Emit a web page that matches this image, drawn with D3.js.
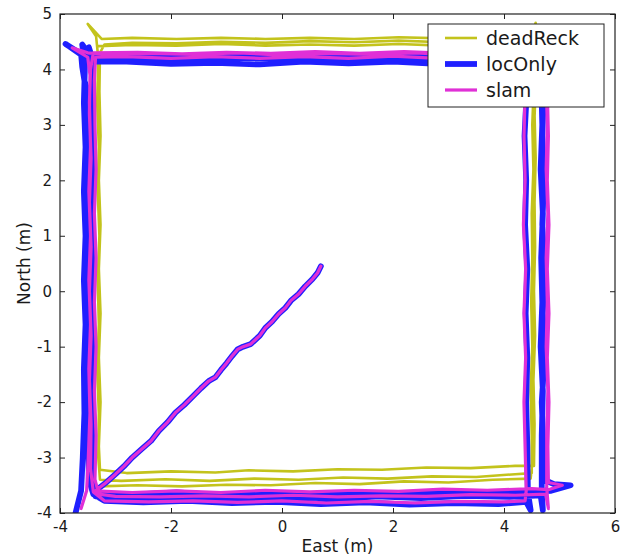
<!DOCTYPE html>
<html>
<head>
<meta charset="utf-8">
<script src="https://cdn.jsdelivr.net/npm/d3@7"></script>
<style>
  html, body { margin: 0; padding: 0; background: #fff; }
  svg text { font-family: "DejaVu Sans", sans-serif; fill: #1a1a1a; }
</style>
</head>
<body>
<svg id="chart" width="626" height="559"></svg>
<script>
// Shared first leg: from the start point diagonally to the south-west corner
const startLeg = [[0.70,0.45],[0.64,0.33],[0.55,0.22],[0.42,0.09],[0.30,-0.05],[0.16,-0.17],[0.06,-0.30],[-0.06,-0.41],[-0.18,-0.55],[-0.30,-0.66],[-0.40,-0.80],[-0.56,-0.95],[-0.70,-1.00],[-0.80,-1.05],[-0.90,-1.17],[-1.00,-1.30],[-1.10,-1.42],[-1.20,-1.55],[-1.32,-1.62],[-1.46,-1.75],[-1.60,-1.89],[-1.76,-2.05],[-1.92,-2.19],[-2.06,-2.36],[-2.22,-2.52],[-2.36,-2.70],[-2.52,-2.84],[-2.70,-3.00],[-2.85,-3.16],[-3.00,-3.30],[-3.18,-3.46],[-3.36,-3.60]];

// Dead-reckoning estimate (East, North) in metres
const deadReckLaps = [
  [-3.30,-3.52],[-2.60,-3.50],[-1.80,-3.52],[-1.00,-3.49],[-0.20,-3.50],[0.60,-3.46],[1.40,-3.48],[2.20,-3.43],[3.00,-3.45],[3.80,-3.40],[4.48,-3.38],
  [4.52,-3.00],[4.50,-2.20],[4.53,-1.40],[4.51,-0.60],[4.53,0.20],[4.52,1.00],[4.55,1.80],[4.53,2.60],[4.56,3.40],[4.55,4.20],[4.57,4.84],[4.50,4.58],
  [3.70,4.59],[2.90,4.56],[2.10,4.58],[1.30,4.55],[0.50,4.57],[-0.30,4.55],[-1.10,4.57],[-1.90,4.55],[-2.70,4.57],[-3.25,4.55],[-3.50,4.82],[-3.35,4.60],
  [-3.31,4.20],[-3.33,3.40],[-3.30,2.60],[-3.32,1.80],[-3.29,1.00],[-3.32,0.20],[-3.30,-0.60],[-3.33,-1.40],[-3.30,-2.20],[-3.31,-3.00],[-3.28,-3.40],
  [-2.90,-3.42],[-2.10,-3.39],[-1.30,-3.42],[-0.50,-3.38],[0.30,-3.40],[1.10,-3.36],[1.90,-3.38],[2.70,-3.34],[3.50,-3.35],[4.20,-3.30],[4.50,-3.28],
  [4.50,-2.60],[4.48,-1.80],[4.51,-1.00],[4.49,-0.20],[4.51,0.60],[4.50,1.40],[4.53,2.20],[4.51,3.00],[4.54,3.80],[4.52,4.40],[4.45,4.50],
  [3.70,4.52],[2.90,4.49],[2.10,4.52],[1.30,4.49],[0.50,4.51],[-0.30,4.48],[-1.10,4.50],[-1.90,4.47],[-2.70,4.48],[-3.20,4.45],[-3.28,4.30],
  [-3.29,3.60],[-3.27,2.80],[-3.30,2.00],[-3.27,1.20],[-3.30,0.40],[-3.27,-0.40],[-3.30,-1.20],[-3.27,-2.00],[-3.30,-2.80],[-3.28,-3.22],
  [-2.80,-3.28],[-2.00,-3.25],[-1.20,-3.27],[-0.60,-3.23],[0.20,-3.25],[1.00,-3.21],[1.80,-3.22],[2.60,-3.18],[3.40,-3.19],[4.20,-3.15],[4.54,-3.15],
  [4.55,-2.40],[4.53,-1.60],[4.56,-0.80],[4.54,0.00],[4.56,0.80],[4.55,1.60],[4.57,2.40],[4.55,3.20],[4.58,4.00],[4.54,4.44],
  [3.70,4.46],[2.90,4.43],[2.10,4.46],[1.30,4.43],[0.50,4.45],[-0.30,4.43],[-1.10,4.46],[-1.90,4.43],[-2.70,4.44],[-3.30,4.42]
];

// Localisation-only estimate
const locOnlyLaps = [
  [-3.40,-3.64],[-2.70,-3.67],[-1.90,-3.63],[-1.10,-3.68],[-0.30,-3.64],[0.50,-3.68],[1.30,-3.63],[2.10,-3.66],[2.90,-3.62],[3.70,-3.65],[4.45,-3.62],[4.85,-3.60],[5.20,-3.50],[4.90,-3.48],[4.72,-3.40],
  [4.71,-2.80],[4.68,-2.00],[4.73,-1.20],[4.70,-0.40],[4.73,0.40],[4.69,1.20],[4.72,2.00],[4.69,2.80],[4.72,3.60],[4.70,4.20],
  [4.20,4.22],[3.40,4.18],[2.60,4.21],[1.80,4.17],[1.00,4.21],[0.20,4.18],[-0.60,4.21],[-1.40,4.17],[-2.20,4.20],[-3.00,4.18],[-3.55,4.22],[-3.90,4.46],[-3.62,4.28],[-3.60,4.05],[-3.56,3.80],[-3.50,3.60],
  [-3.52,2.80],[-3.49,2.00],[-3.53,1.20],[-3.50,0.40],[-3.53,-0.40],[-3.50,-1.20],[-3.53,-2.00],[-3.49,-2.80],[-3.48,-3.40],[-3.40,-3.66],[-3.20,-3.78],
  [-2.50,-3.81],[-1.70,-3.78],[-0.90,-3.82],[-0.10,-3.80],[0.70,-3.84],[1.50,-3.81],[2.30,-3.85],[3.10,-3.82],[3.90,-3.84],[4.40,-3.80],[4.48,-3.95],[4.43,-3.62],
  [4.42,-2.80],[4.40,-2.00],[4.42,-1.20],[4.39,-0.40],[4.42,0.40],[4.38,1.20],[4.40,2.00],[4.37,2.80],[4.41,3.60],[4.40,4.13],
  [3.60,4.13],[2.80,4.10],[2.00,4.14],[1.20,4.11],[0.40,4.14],[-0.40,4.09],[-1.20,4.12],[-2.00,4.10],[-2.80,4.14],[-3.40,4.14],[-3.48,4.40],[-3.42,3.90],
  [-3.43,3.20],[-3.40,2.40],[-3.43,1.60],[-3.40,0.80],[-3.43,0.00],[-3.41,-0.80],[-3.44,-1.60],[-3.40,-2.40],[-3.43,-3.20],[-3.36,-3.70],[-3.10,-3.72],
  [-2.30,-3.74],[-1.50,-3.71],[-0.70,-3.75],[0.10,-3.71],[0.90,-3.74],[1.70,-3.70],[2.50,-3.73],[3.30,-3.69],[4.10,-3.71],[4.66,-3.68],[4.70,-3.95],[4.68,-3.55],
  [4.68,-2.60],[4.70,-1.80],[4.66,-1.00],[4.69,-0.20],[4.67,0.60],[4.70,1.40],[4.66,2.20],[4.69,3.00],[4.67,3.80],[4.66,4.24],
  [3.80,4.26],[3.00,4.23],[2.20,4.25],[1.40,4.22],[0.60,4.25],[-0.20,4.22],[-1.00,4.25],[-1.80,4.21],[-2.60,4.24],[-3.45,4.24],[-3.60,4.45],[-3.55,4.10],
  [-3.57,3.40],[-3.54,2.60],[-3.57,1.80],[-3.54,1.00],[-3.57,0.20],[-3.54,-0.60],[-3.57,-1.40],[-3.56,-2.20],[-3.59,-3.00],[-3.62,-3.60],[-3.72,-4.00]
];

// SLAM estimate
const slamLaps = [
  [-2.70,-3.63],[-1.90,-3.60],[-1.10,-3.63],[-0.30,-3.59],[0.50,-3.62],[1.30,-3.59],[2.10,-3.61],[2.90,-3.57],[3.70,-3.59],[4.50,-3.56],[4.80,-3.58],[5.05,-3.50],[4.80,-3.45],
  [4.79,-2.80],[4.81,-2.00],[4.78,-1.20],[4.81,-0.40],[4.78,0.40],[4.81,1.20],[4.78,2.00],[4.80,2.80],[4.78,3.60],[4.78,4.27],
  [4.00,4.29],[3.20,4.26],[2.40,4.30],[1.60,4.27],[0.80,4.29],[0.00,4.26],[-0.80,4.30],[-1.60,4.27],[-2.40,4.29],[-3.20,4.27],[-3.50,4.30],[-3.78,4.39],[-3.50,4.22],[-3.46,3.90],
  [-3.47,3.20],[-3.44,2.40],[-3.47,1.60],[-3.44,0.80],[-3.47,0.00],[-3.44,-0.80],[-3.47,-1.60],[-3.44,-2.40],[-3.45,-3.20],[-3.40,-3.62],[-3.20,-3.78],
  [-2.40,-3.80],[-1.60,-3.78],[-0.80,-3.81],[0.00,-3.78],[0.80,-3.82],[1.60,-3.79],[2.40,-3.82],[3.20,-3.79],[4.00,-3.80],[4.38,-3.78],[4.40,-3.60],
  [4.38,-2.80],[4.36,-2.00],[4.39,-1.20],[4.36,-0.40],[4.39,0.40],[4.35,1.20],[4.38,2.00],[4.36,2.80],[4.38,3.60],[4.38,4.22],
  [3.60,4.22],[2.80,4.20],[2.00,4.24],[1.20,4.20],[0.40,4.23],[-0.40,4.20],[-1.20,4.23],[-2.00,4.20],[-2.80,4.23],[-3.36,4.22],[-3.38,3.80],
  [-3.37,3.00],[-3.35,2.20],[-3.38,1.40],[-3.35,0.60],[-3.38,-0.20],[-3.35,-1.00],[-3.38,-1.80],[-3.35,-2.60],[-3.37,-3.40],[-3.30,-3.66],[-3.00,-3.70],
  [-2.20,-3.71],[-1.40,-3.69],[-0.60,-3.71],[0.20,-3.68],[1.00,-3.71],[1.80,-3.69],[2.60,-3.70],[3.40,-3.67],[4.20,-3.68],[4.75,-3.66],[4.80,-3.92],[4.77,-3.55],
  [4.77,-2.60],[4.79,-1.80],[4.76,-1.00],[4.78,-0.20],[4.76,0.60],[4.79,1.40],[4.76,2.20],[4.78,3.00],[4.76,3.80],[4.76,4.30],
  [3.80,4.32],[3.00,4.29],[2.20,4.32],[1.40,4.29],[0.60,4.32],[-0.20,4.29],[-1.00,4.31],[-1.80,4.28],[-2.60,4.31],[-3.40,4.30],[-3.45,4.00],
  [-3.47,3.40],[-3.45,2.60],[-3.48,1.80],[-3.45,1.00],[-3.48,0.20],[-3.45,-0.60],[-3.48,-1.40],[-3.46,-2.20],[-3.49,-3.00],[-3.52,-3.60],[-3.62,-3.92]
];

const seriesNames = ["deadReck", "locOnly", "slam"];
const seriesColors = ["#c3c31c", "#1f1fff", "#e030d6"];
const seriesWidths = [2.6, 5.8, 3.2];
const seriesPoints = [
  startLeg.concat(deadReckLaps),
  startLeg.concat(locOnlyLaps),
  startLeg.concat(slamLaps)
];

const xTicks = [-4, -2, 0, 2, 4, 6];
const yTicks = [-4, -3, -2, -1, 0, 1, 2, 3, 4, 5];

const svg = d3.select("#chart");
const plotLeft = 60, plotRight = 615, plotTop = 14, plotBottom = 513;

const x = d3.scaleLinear().domain([-4, 6]).range([plotLeft, plotRight]);
const y = d3.scaleLinear().domain([-4, 5]).range([plotBottom, plotTop]);

svg.append("defs").append("clipPath").attr("id", "plotClip")
  .append("rect").attr("x", plotLeft).attr("y", plotTop)
  .attr("width", plotRight - plotLeft).attr("height", plotBottom - plotTop);

const line = d3.line().x(d => x(d[0])).y(d => y(d[1]));

const plot = svg.append("g").attr("clip-path", "url(#plotClip)");
seriesPoints.forEach((pts, i) => {
  plot.append("path")
    .datum(pts)
    .attr("d", line)
    .attr("fill", "none")
    .attr("stroke", seriesColors[i])
    .attr("stroke-width", seriesWidths[i])
    .attr("stroke-linejoin", "round")
    .attr("stroke-linecap", "round");
});

// Axes with inward ticks on all four sides
const tickLen = 5;
const axB = d3.axisBottom(x).tickValues(xTicks).tickSize(-tickLen).tickPadding(8).tickFormat(d3.format("d"));
const axT = d3.axisTop(x).tickValues(xTicks).tickSize(-tickLen).tickFormat("");
const axL = d3.axisLeft(y).tickValues(yTicks).tickSize(-tickLen).tickPadding(8).tickFormat(d3.format("d"));
const axR = d3.axisRight(y).tickValues(yTicks).tickSize(-tickLen).tickFormat("");

function styleAxis(g) {
  g.select(".domain").remove();
  g.selectAll(".tick line").attr("stroke", "#222").attr("stroke-width", 1);
  g.selectAll(".tick text").attr("font-size", 15).attr("fill", "#1a1a1a")
    .text(d => String(d));
}
svg.append("g").attr("transform", `translate(0,${plotBottom})`).call(axB).call(styleAxis);
svg.append("g").attr("transform", `translate(0,${plotTop})`).call(axT).call(styleAxis)
  .selectAll(".tick text").remove();
svg.append("g").attr("transform", `translate(${plotLeft},0)`).call(axL).call(styleAxis);
svg.append("g").attr("transform", `translate(${plotRight},0)`).call(axR).call(styleAxis)
  .selectAll(".tick text").remove();

svg.append("rect")
  .attr("x", plotLeft).attr("y", plotTop)
  .attr("width", plotRight - plotLeft).attr("height", plotBottom - plotTop)
  .attr("fill", "none").attr("stroke", "#222").attr("stroke-width", 1.2);

svg.append("text")
  .attr("x", (plotLeft + plotRight) / 2).attr("y", 552)
  .attr("text-anchor", "middle").attr("font-size", 17)
  .text("East (m)");
svg.append("text")
  .attr("transform", `translate(24,${(plotTop + plotBottom) / 2}) rotate(-90)`)
  .attr("text-anchor", "middle").attr("dominant-baseline", "central").attr("font-size", 17)
  .text("North (m)");

// Legend
const lg = svg.append("g").attr("transform", "translate(428,24)");
lg.append("rect").attr("width", 176).attr("height", 83)
  .attr("fill", "#fff").attr("stroke", "#222").attr("stroke-width", 1);
seriesNames.forEach((name, i) => {
  const cy = 14 + i * 26;
  lg.append("line").attr("x1", 17).attr("x2", 49).attr("y1", cy).attr("y2", cy)
    .attr("stroke", seriesColors[i]).attr("stroke-width", seriesWidths[i]);
  lg.append("text").attr("x", 58).attr("y", cy)
    .attr("dominant-baseline", "central").attr("font-size", 19)
    .text(name);
});
</script>
</body>
</html>
